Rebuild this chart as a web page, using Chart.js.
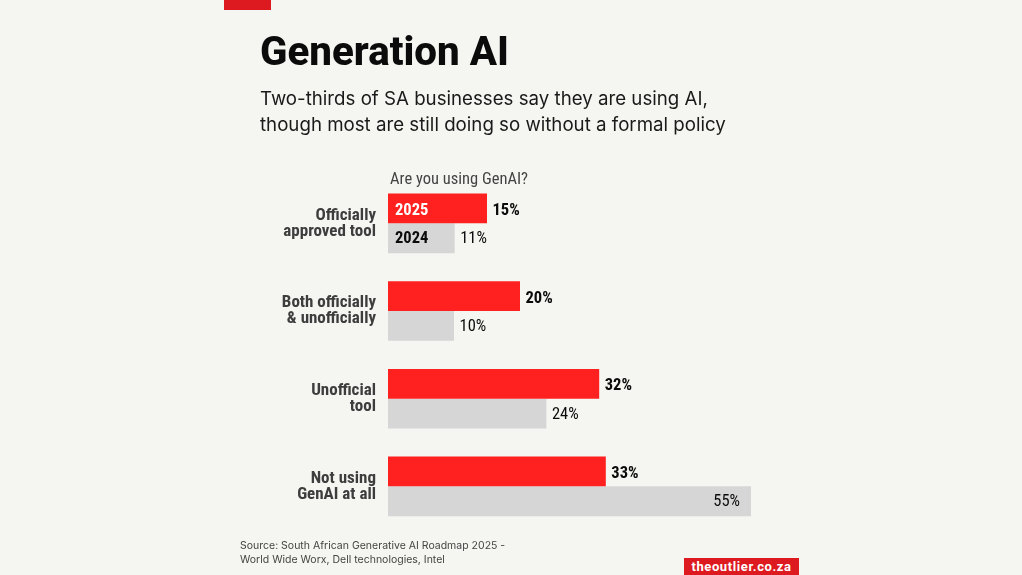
<!DOCTYPE html>
<html>
<head>
<meta charset="utf-8">
<title>Generation AI</title>
<script src="https://cdn.jsdelivr.net/npm/chart.js@4/dist/chart.umd.min.js"></script>
<style>
  html, body { margin: 0; padding: 0; background: #f5f5f1; }
  #wrap { position: relative; width: 1022px; height: 575px; overflow: hidden; }
  #chart { position: absolute; left: 0; top: 0; }
  .txt { position: absolute; white-space: nowrap; }
  #topbar { position: absolute; left: 224px; top: 0; width: 47px; height: 10px; background: #dd1a1f; }
  #title { left: 260px; top: 26px; font: 800 40.3px/52px Roboto, sans-serif; color: #0b0b0b; }
  #sub { left: 260px; top: 86px; font: 400 18.7px/26px Inter, sans-serif; color: #1a1a1a; }
  #question { left: 390px; top: 169px; font: 400 16.5px/20px Roboto, sans-serif; font-stretch: 87.5%; color: #444; }
  #source { left: 240px; top: 539px; font: 400 10.5px/14px Inter, sans-serif; color: #444; }
  #brand { position: absolute; left: 684px; top: 558px; width: 115px; height: 17px; background: #dd1a1f; color: #fff;
           font: 700 13px/17px Roboto, sans-serif; letter-spacing: 0.6px; text-align: center; }
</style>
</head>
<body>
<div id="wrap">
  <canvas id="chart" width="1022" height="575"></canvas>
  <div id="topbar"></div>
  <div class="txt" id="title">Generation AI</div>
  <div class="txt" id="sub">Two-thirds of SA businesses say they are using AI,<br>though most are still doing so without a formal policy</div>
  <div class="txt" id="question">Are you using GenAI?</div>
  <div class="txt" id="source">Source: South African Generative AI Roadmap 2025 -<br>World Wide Worx, Dell technologies, Intel</div>
  <div id="brand">theoutlier.co.za</div>
</div>
<script>
const categories = [
  ['Officially', 'approved tool'],
  ['Both officially', '& unofficially'],
  ['Unofficial', 'tool'],
  ['Not using', 'GenAI at all']
];
const values2025 = [15, 20, 32, 33];
// the 11% bar is drawn about as long as the 10% one in the original
const values2024 = [10.1, 10, 24, 55];
const labels2025 = ['15%', '20%', '32%', '33%'];
const labels2024 = ['11%', '10%', '24%', '55%'];
const seriesNames = ['2025', '2024'];

const family = 'Roboto, sans-serif';
const barFont = (weight) => 'semi-condensed ' + weight + ' 16.5px ' + family;

// value labels and the year tags inside the first pair of bars
const barLabels = {
  id: 'barLabels',
  afterDatasetsDraw(chart) {
    const ctx = chart.ctx;
    const texts = [labels2025, labels2024];
    ctx.save();
    ctx.textBaseline = 'middle';
    chart.data.datasets.forEach((ds, i) => {
      const dy = i === 0 ? 2.5 : 1;
      chart.getDatasetMeta(i).data.forEach((bar, j) => {
        const inside = ds.data[j] === chart.scales.x.max;
        ctx.font = barFont(i === 0 ? 'bold' : 'normal');
        ctx.fillStyle = '#0b0b0b';
        ctx.textAlign = inside ? 'right' : 'left';
        ctx.fillText(texts[i][j], inside ? bar.x - 11 : bar.x + 5.5, bar.y + dy);
        if (j === 0) {
          ctx.font = barFont('bold');
          ctx.textAlign = 'left';
          ctx.fillStyle = i === 0 ? '#fff' : '#0b0b0b';
          ctx.fillText(ds.label, chart.scales.x.left + 7, bar.y + dy);
        }
      });
    });
    ctx.restore();
  }
};

new Chart(document.getElementById('chart'), {
  type: 'bar',
  data: {
    labels: categories,
    datasets: [
      { label: seriesNames[0], data: values2025, backgroundColor: '#ff2020' },
      { label: seriesNames[1], data: values2024, backgroundColor: '#d6d6d6' }
    ]
  },
  options: {
    indexAxis: 'y',
    responsive: false,
    animation: false,
    categoryPercentage: 0.68,
    barPercentage: 1,
    layout: { padding: { top: 179.5, right: 271, bottom: 44.8, left: 0 } },
    plugins: { legend: { display: false }, tooltip: { enabled: false } },
    scales: {
      x: { display: false, min: 0, max: 55 },
      y: {
        afterFit(scale) { scale.width = 388; },
        border: { display: false },
        grid: { display: false },
        ticks: {
          padding: 4,
          color: '#3d3d3d',
          // Chart.js drops a stretch given as style, so it travels in weight
          font: { family: family, size: 17, weight: 'semi-condensed bold', lineHeight: 0.94 }
        }
      }
    }
  },
  plugins: [barLabels]
});
</script>
</body>
</html>
